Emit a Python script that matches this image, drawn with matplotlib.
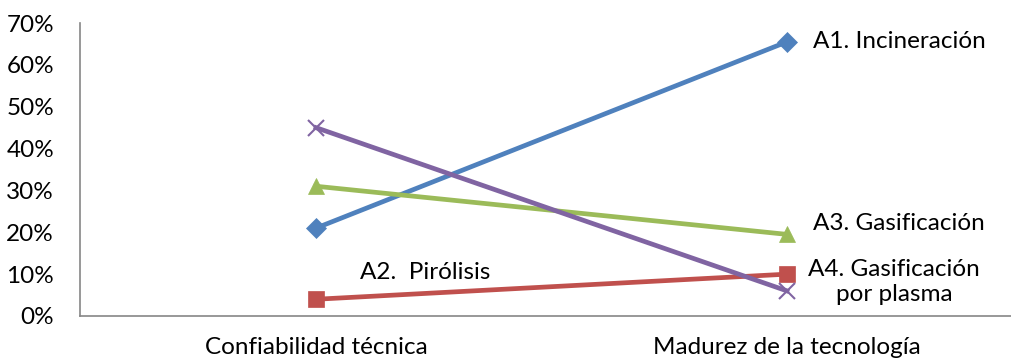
import matplotlib.pyplot as plt
from matplotlib.ticker import PercentFormatter

plt.rcParams['font.family'] = ['Lato', 'DejaVu Sans']

categories = ['Confiabilidad técnica', 'Madurez de la tecnología']
incineracion = [21, 65.5]
pirolisis = [4, 10]
gasificacion = [31, 19.5]
plasma = [45, 6]

series = [
    (incineracion, '#4F81BD', 'D', 10),
    (pirolisis, '#C0504D', 's', 11),
    (gasificacion, '#9BBB59', '^', 12),
    (plasma, '#8064A2', 'x', 12),
]

fs = 17.5

fig = plt.figure(figsize=(10.12, 3.6), dpi=100)
ax = fig.add_axes([80.5 / 1012, 44 / 360, 942 / 1012, 293 / 360])

x = range(len(categories))
for vals, color, marker, ms in series:
    ax.plot(x, vals, color=color, lw=3.4, marker=marker, markersize=ms,
            markeredgewidth=1.5 if marker == 'x' else 0.5, markeredgecolor=color,
            clip_on=False, zorder=3)

ax.set_xlim(-0.5, 1.5)
ax.set_ylim(0, 70)
ax.set_yticks(range(0, 71, 10))
ax.yaxis.set_major_formatter(PercentFormatter(decimals=0))
ax.set_xticks(list(x))
ax.set_xticklabels(categories)
ax.tick_params(axis='both', length=0, labelsize=fs, colors='black')
ax.tick_params(axis='x', pad=15)
ax.tick_params(axis='y', pad=19)

for side in ['top', 'right']:
    ax.spines[side].set_visible(False)
for side in ['left', 'bottom']:
    ax.spines[side].set_color('#868686')
    ax.spines[side].set_linewidth(1.2)

# series labels
ax.text(1.055, 65.5, 'A1. Incineración', fontsize=fs, va='center', ha='left')
ax.text(1.055, 22.2, 'A3. Gasificación', fontsize=fs, va='center', ha='left')
ax.text(1.227, 8.2, 'A4. Gasificación\npor plasma', fontsize=fs, va='center',
        ha='center', linespacing=1.25)
ax.text(0.093, 10.3, 'A2.  Pirólisis', fontsize=fs, va='center', ha='left')

fig.savefig('out.png', dpi=100)
